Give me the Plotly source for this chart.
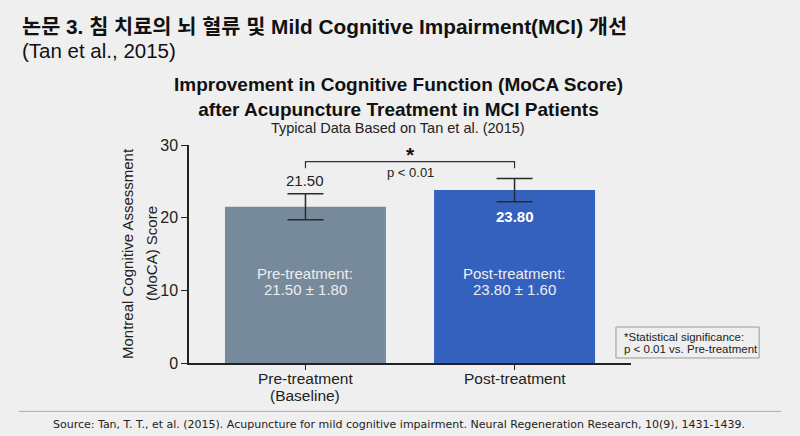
import plotly.graph_objects as go

# data
groups = ["Pre-treatment", "Post-treatment"]
group_lines = [["Pre-treatment", "(Baseline)"], ["Post-treatment"]]
means = [21.50, 23.80]
sds = [1.80, 1.60]
bar_colors = ["#778a9c", "#3461be"]
y_ticks = [0, 10, 20, 30]
y_title_lines = ["Montreal Cognitive Assessment", "(MoCA) Score"]
p_label = "p < 0.01"
note_lines = ["*Statistical significance:", "p < 0.01 vs. Pre-treatment"]

BG = "#efefef"
FONT = "Liberation Sans, Arial, sans-serif"
KFONT = "Liberation Sans, Noto Sans CJK KR, sans-serif"

fig = go.Figure()
fig.add_trace(go.Bar(
    x=groups, y=means,
    marker=dict(color=bar_colors, line=dict(width=0)),
    error_y=dict(type="data", array=sds, visible=True,
                 color="#2a2a2a", thickness=1.5, width=18),
    width=0.77,
    hoverinfo="skip",
    showlegend=False,
))

# category labels (tight line spacing like the reference)
for g, lines in zip(groups, group_lines):
    for i, ln in enumerate(lines):
        fig.add_annotation(x=g, y=0, yref="y", text=ln, showarrow=False,
                           yanchor="middle", yshift=-15 - 17 * i,
                           font=dict(family=FONT, size=15.5, color="#222"))

# value labels
fig.add_annotation(x=groups[0], y=means[0] + sds[0], yref="y",
                   text=f"{means[0]:.2f}", showarrow=False, yanchor="bottom",
                   yshift=3, font=dict(family=FONT, size=15, color="#222"))
fig.add_annotation(x=groups[1], y=means[1] - sds[1], yref="y",
                   text=f"<b>{means[1]:.2f}</b>", showarrow=False, yanchor="top",
                   yshift=-4, font=dict(family=FONT, size=15, color="white"))

# inside labels
for g, m, s in zip(groups, means, sds):
    fig.add_annotation(x=g, y=11.15, text=f"{g}:", showarrow=False, yshift=8,
                       font=dict(family=FONT, size=15, color="#eeeeee"))
    fig.add_annotation(x=g, y=11.15, text=f"{m:.2f} ± {s:.2f}", showarrow=False, yshift=-8,
                       font=dict(family=FONT, size=15, color="#eeeeee"))

# significance bracket
top = 27.7
drop = 26.8
fig.add_shape(type="path", xref="x", yref="y",
              path=f"M 0 {drop} L 0 {top} L 1 {top} L 1 {drop}",
              line=dict(color="#333", width=1.2))
fig.add_annotation(x=0.5, y=top, text="<b>*</b>", showarrow=False, yanchor="bottom",
                   yshift=-6, font=dict(family=FONT, size=21, color="#111"))
fig.add_annotation(x=0.5, y=top, text=p_label, showarrow=False, yanchor="top",
                   yshift=-1, font=dict(family=FONT, size=13, color="#222"))

# stats note box
fig.add_shape(type="rect", xref="paper", yref="paper", x0=0.966, x1=1.29, y0=0.023, y1=0.165,
              line=dict(color="#999", width=1), fillcolor=BG)
for i, ln in enumerate(note_lines):
    fig.add_annotation(xref="paper", yref="paper", x=0.979, y=0.119 - 0.057 * i,
                       xanchor="left", yanchor="middle", text=ln, showarrow=False,
                       font=dict(family=FONT, size=11.5, color="#222"))

# y axis title, two rotated lines
for i, ln in enumerate(y_title_lines):
    fig.add_annotation(xref="paper", yref="paper", x=0, y=0.5, xshift=-62 + 24 * i,
                       textangle=-90, xanchor="center", yanchor="middle",
                       text=ln, showarrow=False,
                       font=dict(family=FONT, size=15, color="#222"))

# headings
fig.add_annotation(xref="paper", yref="paper", x=0, y=1, xshift=-169, yshift=119,
                   xanchor="left", yanchor="middle",
                   text="<b>논문 3. 침 치료의 뇌 혈류 및 Mild Cognitive Impairment(MCI) 개선</b>",
                   showarrow=False, font=dict(family=KFONT, size=20.8, color="#111"))
fig.add_annotation(xref="paper", yref="paper", x=0, y=1, xshift=-169, yshift=95,
                   xanchor="left", yanchor="middle", text="(Tan et al., 2015)",
                   showarrow=False, font=dict(family=FONT, size=20.5, color="#111"))
fig.add_annotation(xref="paper", yref="paper", x=0.5, y=1, xshift=-12, yshift=48,
                   yanchor="middle",
                   text="<b>Improvement in Cognitive Function (MoCA Score)<br>after Acupuncture Treatment in MCI Patients</b>",
                   showarrow=False, font=dict(family=FONT, size=19, color="#111"))
fig.add_annotation(xref="paper", yref="paper", x=0.5, y=1, xshift=-12, yshift=17,
                   yanchor="middle", text="Typical Data Based on Tan et al. (2015)",
                   showarrow=False, font=dict(family=FONT, size=14.5, color="#222"))

# footer
fig.add_shape(type="line", xref="paper", yref="paper", x0=-0.385, x1=1.34, y0=-0.222, y1=-0.222,
              line=dict(color="#aaaaaa", width=1))
fig.add_annotation(xref="paper", yref="paper", x=0.5, y=0, yshift=-61, xshift=-11,
                   yanchor="middle",
                   text="Source: Tan, T. T., et al. (2015). Acupuncture for mild cognitive impairment. Neural Regeneration Research, 10(9), 1431-1439.",
                   showarrow=False, font=dict(family="DejaVu Sans, sans-serif", size=11, color="#222"))

fig.update_layout(
    width=800, height=436,
    margin=dict(l=189, r=169, t=145, b=73),
    paper_bgcolor=BG, plot_bgcolor=BG,
    font=dict(family=FONT, color="#222"),
    xaxis=dict(range=[-0.557, 1.557], showline=True, linecolor="#222", linewidth=1.5,
               ticks="outside", ticklen=5, tickcolor="#222",
               showticklabels=False, showgrid=False),
    yaxis=dict(range=[0, 30], tickvals=y_ticks, showline=True, linecolor="#222",
               linewidth=1.5, ticks="outside", ticklen=6, tickcolor="#222",
               tickfont=dict(size=16, color="#222"), showgrid=False, zeroline=False),
)

fig.write_html("out.html", config={"displayModeBar": False},
               post_script="document.body.style.margin='0';document.body.style.background='%s';" % BG)
